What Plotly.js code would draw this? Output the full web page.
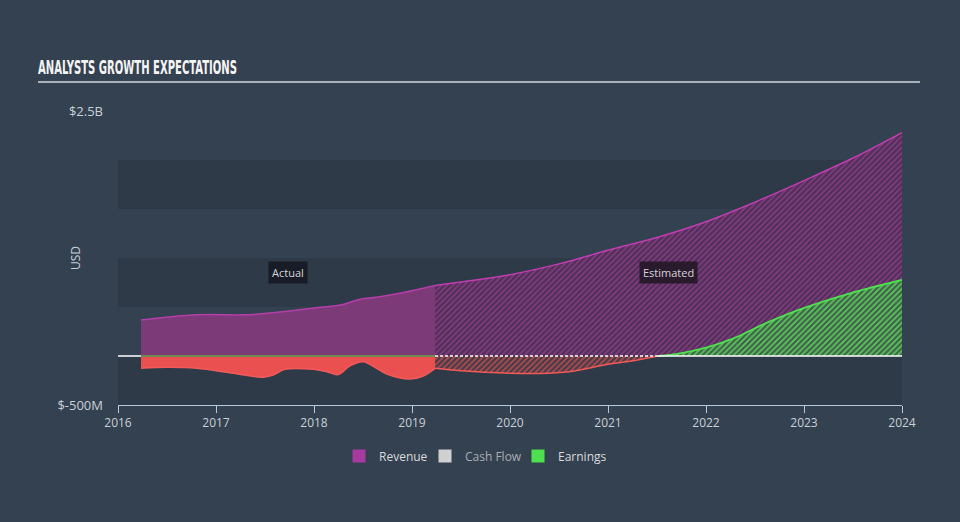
<!DOCTYPE html>
<html>
<head>
<meta charset="utf-8">
<script src="https://cdn.plot.ly/plotly-3.0.1.min.js"></script>
<style>html,body{margin:0;padding:0;background:#344150;}#chart{width:960px;height:522px;}</style>
</head>
<body>
<div id="chart"></div>
<script>
// ---- data (values in billions USD) ----
const revActualX = [2016.235, 2016.8, 2017.3, 2017.55, 2017.75, 2018.0, 2018.27, 2018.47, 2018.64, 2018.9, 2019.235];
const revActualY = [0.367, 0.42, 0.42, 0.44, 0.46, 0.49, 0.52, 0.58, 0.60, 0.645, 0.72];
const revEstX = [2019.235, 2019.5, 2020.0, 2020.5, 2021.0, 2021.5, 2022.0, 2022.5, 2023.0, 2023.5, 2024.0];
const revEstY = [0.72, 0.755, 0.83, 0.94, 1.08, 1.21, 1.37, 1.57, 1.79, 2.02, 2.28];

const earnActualX = [2016.235, 2016.497, 2016.803, 2017.177, 2017.483, 2017.585, 2017.704, 2017.993, 2018.13, 2018.248, 2018.367, 2018.503, 2018.64, 2018.742, 2018.98, 2019.115, 2019.235];
const earnActualY = [-0.126, -0.116, -0.126, -0.177, -0.217, -0.194, -0.136, -0.136, -0.16, -0.19, -0.10, -0.058, -0.126, -0.184, -0.235, -0.204, -0.126];
const earnEstNegX = [2019.235, 2019.5, 2020.0, 2020.3, 2020.6, 2021.0, 2021.3, 2021.51];
const earnEstNegY = [-0.126, -0.15, -0.175, -0.178, -0.16, -0.085, -0.04, 0];
const earnEstPosX = [2021.51, 2021.75, 2022.0, 2022.28, 2022.6, 2022.96, 2023.47, 2024.0];
const earnEstPosY = [0, 0.03, 0.085, 0.18, 0.33, 0.476, 0.64, 0.776];

const xTicks = [2016, 2017, 2018, 2019, 2020, 2021, 2022, 2023, 2024];
const yTickVals = [-0.5, 2.5];
const yTickText = ['$-500M', '$2.5B'];
const bandRanges = [[-0.5, 0], [0.5, 1.0], [1.5, 2.0]];
const seriesNames = ['Revenue', 'Cash Flow', 'Earnings'];
const seriesColors = ['#a8399f', '#d0d0d0', '#4fe04f'];

const xMin = xTicks[0], xMax = xTicks[xTicks.length - 1];
const boundary = revActualX[revActualX.length - 1];
const cross = earnEstPosX[0];

const traces = [];
// Revenue actual
traces.push({x: revActualX, y: revActualY, type: 'scatter', mode: 'lines', fill: 'tozeroy',
  line: {color: '#b53fa8', width: 1.5, shape: 'spline'}, fillcolor: '#7c3a78', showlegend: false, hoverinfo: 'skip'});
// Revenue estimated (hatched)
traces.push({x: revEstX, y: revEstY, type: 'scatter', mode: 'lines', fill: 'tozeroy',
  line: {color: '#c23db2', width: 1.5, shape: 'spline'}, fillcolor: '#4b2d54',
  fillpattern: {shape: '/', bgcolor: '#4c2e55', fgcolor: '#7e3b7c', size: 4, solidity: 0.5},
  showlegend: false, hoverinfo: 'skip'});
// Earnings actual (negative, red)
traces.push({x: earnActualX, y: earnActualY, type: 'scatter', mode: 'lines', fill: 'tozeroy',
  line: {color: '#f25a5a', width: 1.5, shape: 'spline'}, fillcolor: '#ea5050', showlegend: false, hoverinfo: 'skip'});
// Earnings estimated negative (hatched red)
traces.push({x: earnEstNegX, y: earnEstNegY, type: 'scatter', mode: 'lines', fill: 'tozeroy',
  line: {color: '#f25a5a', width: 1.5, shape: 'spline'}, fillcolor: '#4a3a48',
  fillpattern: {shape: '/', bgcolor: '#3f3a48', fgcolor: '#a84b4e', size: 4, solidity: 0.5},
  showlegend: false, hoverinfo: 'skip'});
// Earnings estimated positive (hatched green)
traces.push({x: earnEstPosX, y: earnEstPosY, type: 'scatter', mode: 'lines', fill: 'tozeroy',
  line: {color: '#4de24d', width: 1.8, shape: 'spline'}, fillcolor: '#3b5f47',
  fillpattern: {shape: '/', bgcolor: '#3c5e48', fgcolor: '#5cbf5c', size: 4, solidity: 0.5},
  showlegend: false, hoverinfo: 'skip'});
// zero line segments
traces.push({x: [xMin, revActualX[0]], y: [0, 0], type: 'scatter', mode: 'lines', line: {color: '#ffffff', width: 1.5}, showlegend: false, hoverinfo: 'skip'});
traces.push({x: [revActualX[0], boundary], y: [0, 0], type: 'scatter', mode: 'lines', line: {color: '#6f8a4f', width: 2}, showlegend: false, hoverinfo: 'skip'});
traces.push({x: [boundary, cross], y: [0, 0], type: 'scatter', mode: 'lines', line: {color: '#ffffff', width: 1.3, dash: '3px,2px'}, showlegend: false, hoverinfo: 'skip'});
traces.push({x: [cross, xMax], y: [0, 0], type: 'scatter', mode: 'lines', line: {color: '#ffffff', width: 1.5}, showlegend: false, hoverinfo: 'skip'});
// legend entries
const legendWidths = [41, 48, 46];
seriesNames.forEach((n, i) => {
  traces.push({x: [null], y: [null], type: 'scatter', mode: 'markers',
    name: i === 1 ? '<span style="color:#a8adb3">' + n + '</span>' : n,
    legendwidth: legendWidths[i],
    marker: {symbol: 'square', size: 13, color: seriesColors[i]}, showlegend: true, hoverinfo: 'skip'});
});

const shapes = bandRanges.map(b => ({type: 'rect', xref: 'x', yref: 'y', x0: xMin, x1: xMax, y0: b[0], y1: b[1],
  fillcolor: '#2e3a48', line: {width: 0}, layer: 'below'}));
shapes.push({type: 'line', xref: 'paper', yref: 'paper', x0: (38 - 118) / 784, x1: (920 - 118) / 784,
  y0: (405 - 82) / 294, y1: (405 - 82) / 294, line: {color: '#aab0b8', width: 2}});

const layout = {
  width: 960, height: 522,
  paper_bgcolor: '#344150', plot_bgcolor: 'rgba(0,0,0,0)',
  margin: {l: 118, r: 58, t: 111, b: 117},
  font: {family: '"Open Sans", Lato, sans-serif', color: '#c8d0d8', size: 12},
  title: {text: 'ANALYSTS GROWTH EXPECTATIONS', xref: 'container', yref: 'container',
    x: 38 / 960, xanchor: 'left', y: 1 - 67 / 522, yanchor: 'middle',
    font: {family: '"Liberation Sans Narrow", "DejaVu Sans Condensed", sans-serif', size: 20, weight: 'bold', color: '#f4f4f4'}},
  xaxis: {range: [xMin, xMax], tickvals: xTicks, ticktext: xTicks.map(String), ticks: 'outside', ticklen: 7,
    tickcolor: '#b8c8d8', showline: true, linecolor: '#b8c8d8', linewidth: 1, showgrid: false, zeroline: false,
    tickfont: {size: 12, color: '#c8d0d8'}, fixedrange: true},
  yaxis: {range: [-0.5, 2.5], tickvals: yTickVals, ticktext: yTickText, showgrid: false, zeroline: false,
    showline: false, ticks: '', ticklabelstandoff: 14, tickfont: {size: 13, color: '#c8d0d8'}, fixedrange: true},
  showlegend: true,
  legend: {orientation: 'h', x: (474 - 118) / 784, xanchor: 'center', y: -(456 - 405) / 294, yanchor: 'middle',
    font: {size: 12, color: '#d8dadc'}, bgcolor: 'rgba(0,0,0,0)'},
  shapes: shapes,
  annotations: [
    {text: 'USD', xref: 'paper', yref: 'paper', x: (75 - 118) / 784, y: 0.5, xanchor: 'center', yanchor: 'middle',
      textangle: -90, showarrow: false, font: {size: 12, color: '#c8d0d8'}},
    {text: 'Actual', xref: 'x', yref: 'y', x: 2017.73, y: 0.857, showarrow: false, bgcolor: 'rgba(22,26,34,0.9)',
      borderpad: 3, font: {size: 11, color: '#d4d4d8'}},
    {text: 'Estimated', xref: 'x', yref: 'y', x: 2021.62, y: 0.857, showarrow: false, bgcolor: 'rgba(30,22,34,0.85)',
      borderpad: 3, font: {size: 11, color: '#d4d4d8'}}
  ],
  hovermode: false
};

Plotly.newPlot('chart', traces, layout, {displayModeBar: false, staticPlot: true}).then(() => {
  const t = document.querySelector('.gtitle');
  if (t) { t.setAttribute('textLength', '199'); t.setAttribute('lengthAdjust', 'spacingAndGlyphs'); }
});
</script>
</body>
</html>
